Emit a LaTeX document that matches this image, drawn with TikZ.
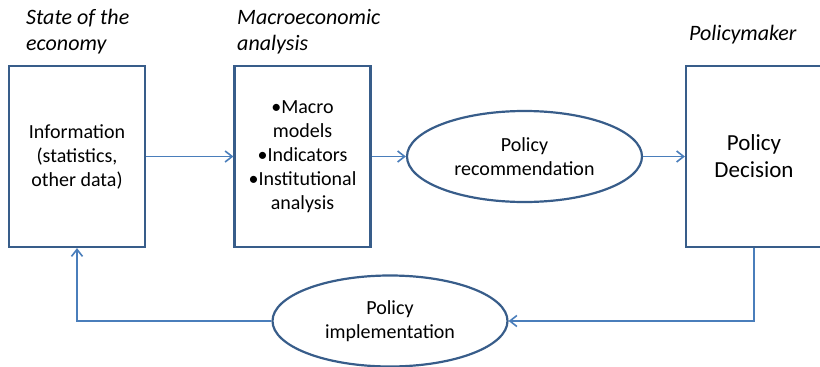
\documentclass[tikz,border=0pt]{standalone}
\usepackage{fontspec}
\setmainfont{Carlito}
\usetikzlibrary{shapes.geometric,arrows.meta}
\definecolor{boxblue}{RGB}{56,93,138}
\definecolor{lineblue}{RGB}{74,126,187}
\begin{document}
\begin{tikzpicture}[x=1pt, y=-1pt,
			box/.style = {draw=boxblue, line width=2.2pt, rectangle, minimum width=136pt, minimum height=181pt, inner sep=2pt, align=center, font=\fontsize{20}{24}\selectfont},
			oval/.style = {draw=boxblue, line width=2.2pt, ellipse, minimum width=235pt, minimum height=91pt, inner sep=0pt, align=center, font=\fontsize{20}{24}\selectfont},
			head/.style = {inner sep=0pt, anchor=north west, align=left, font=\fontsize{22}{26.5}\selectfont\itshape},
			link/.style = {draw=lineblue, line width=1.6pt, -{Straight Barb[length=7pt,width=11pt]}}]
			
			\useasboundingbox (0,0) rectangle (820,367);
			
			\node[box] (info) at (77,156.5) {Information\\(statistics,\\other data)};
			\node[box] (analysis) at (302.5,156.5) {•Macro\\models\\•Indicators\\•Institutional\\analysis};
			\node[oval] (rec) at (524.5,156.5) {Policy\\recommendation};
			\node[box, font=\fontsize{23}{27}\selectfont] (decision) at (754,156.5) {Policy\\Decision};
			\node[oval] (impl) at (390,321) {Policy\\implementation};
			
			\node[head] (economy) at (26,9) {State of the\\economy};
			\node[head] (macro) at (237,9) {Macroeconomic\\analysis};
			\node[head] (maker) at (689,25) {Policymaker};
			
			\draw[link] (info) to (analysis);
			\draw[link] (analysis) to (rec);
			\draw[link] (rec) to (decision);
			\draw[link] (decision.south) |- (impl.east);
			\draw[link] (impl.west) -| (info.south);
			
		\end{tikzpicture}
\end{document}
